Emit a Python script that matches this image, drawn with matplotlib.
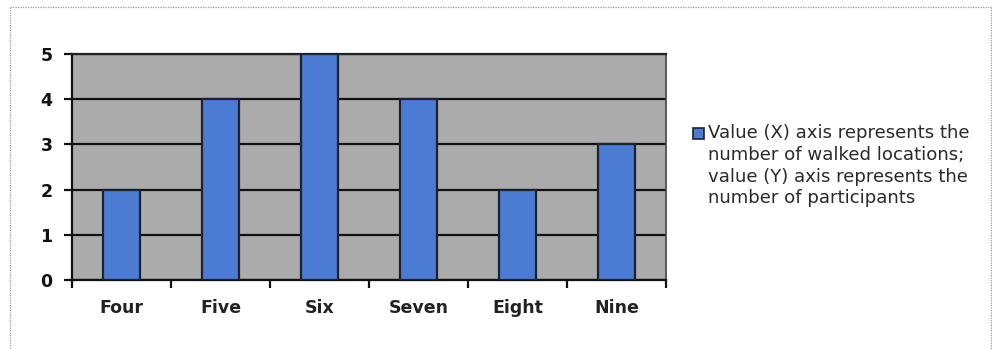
import numpy as np
import matplotlib
matplotlib.use("Agg")
import matplotlib.pyplot as plt
from matplotlib.patches import Rectangle
from matplotlib.lines import Line2D

# Data
categories = ["Four", "Five", "Six", "Seven", "Eight", "Nine"]
participants = [2, 4, 5, 4, 2, 3]
legend_label = ("Value (X) axis represents the\n"
                "number of walked locations;\n"
                "value (Y) axis represents the\n"
                "number of participants")

W, H = 992, 349
fig = plt.figure(figsize=(W / 100, H / 100), dpi=100)

# plot area in pixel terms
left, right, top, bottom = 72, 666, 54, 280
ax = fig.add_axes([left / W, (H - bottom) / H, (right - left) / W, (bottom - top) / H])

x = np.arange(len(categories))
ax.set_facecolor("#ababab")
ax.bar(x, participants, width=0.38, color="#4c7bd3", edgecolor="#1c2230",
       linewidth=1.6, zorder=3)

ax.set_xlim(-0.5, len(categories) - 0.5)
ax.set_ylim(0, 5)
ax.set_yticks(range(0, 6))
ax.set_xticks(x)
ax.set_xticklabels(categories)
ax.set_xticks(np.arange(-0.5, len(categories)), minor=True)

ax.grid(axis="y", color="#111111", linewidth=1.6, zorder=1)
ax.set_axisbelow(True)

for s in ["left", "bottom"]:
    ax.spines[s].set_linewidth(1.6)
    ax.spines[s].set_color("#111111")
ax.spines["top"].set_linewidth(1.6)
ax.spines["top"].set_color("#222222")
ax.spines["right"].set_linewidth(1.2)
ax.spines["right"].set_color("#444444")

ax.tick_params(axis="y", direction="out", length=6, width=1.6, pad=8,
               labelsize=12.5, colors="#111111")
ax.tick_params(axis="x", which="major", length=0, pad=14, labelsize=12.5,
               colors="#222222")
ax.tick_params(axis="x", which="minor", direction="out", length=6, width=1.6,
               colors="#111111")
for lab in ax.get_xticklabels() + ax.get_yticklabels():
    lab.set_fontweight("bold")

# legend key and text
fig.patches.append(Rectangle((693 / W, (H - 139) / H), 11 / W, 11 / H,
                             transform=fig.transFigure, facecolor="#4c7bd3",
                             edgecolor="#1c2230", linewidth=1.2))
fig.text(708 / W, (H - 124) / H, legend_label, fontsize=13.1, color="#2a2a2a",
         va="top", ha="left", linespacing=1.27)

# dotted outer frame
frame_kw = dict(color="#999999", linewidth=0.9, linestyle=(0, (1, 1)),
                transform=fig.transFigure)
fig.lines.append(Line2D([10 / W, 10 / W], [(H - 7) / H, 0], **frame_kw))
fig.lines.append(Line2D([10 / W, 991 / W], [(H - 7) / H, (H - 7) / H], **frame_kw))
fig.lines.append(Line2D([991 / W, 991 / W], [(H - 7) / H, 0], **frame_kw))

fig.savefig("out.png", dpi=100)
